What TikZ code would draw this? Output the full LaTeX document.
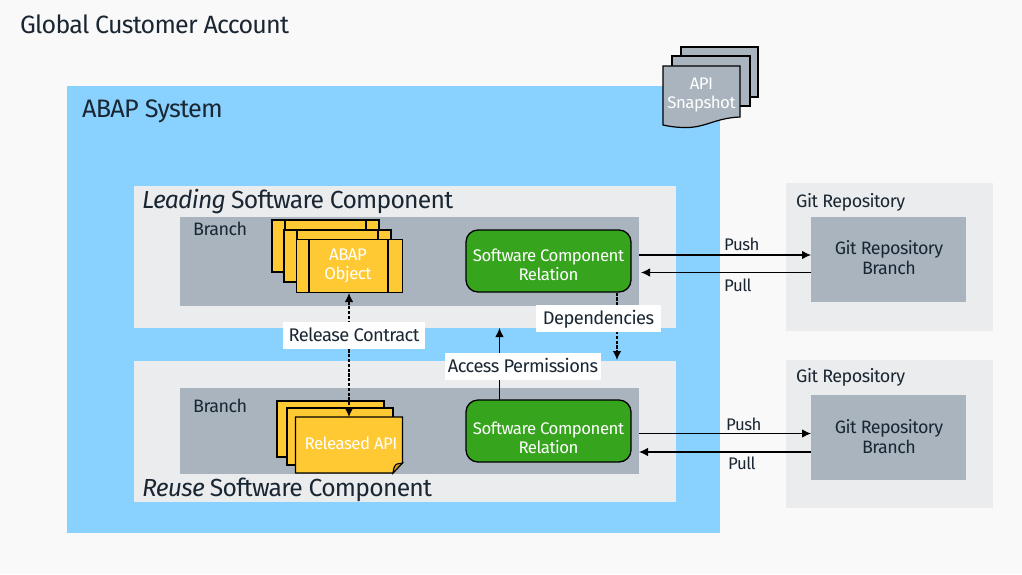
\documentclass[tikz,border=0pt]{standalone}
\usepackage{fontspec}
\setmainfont[LetterSpace=-3]{Fira Sans}
\usetikzlibrary{arrows.meta}
\definecolor{pagebg}{HTML}{F9F9F9}
\definecolor{sysblue}{HTML}{89D1FF}
\definecolor{panel}{HTML}{EBECEE}
\definecolor{slate}{HTML}{A9B4BE}
\definecolor{scgreen}{HTML}{36A41D}
\definecolor{objyellow}{HTML}{FFC933}
\definecolor{foldy}{HTML}{D9A21B}
\definecolor{ink}{HTML}{1A2733}
\newcommand{\fs}[2][19]{\fontsize{#2}{#1}\selectfont}
\tikzset{
  x=1pt,y=-1pt,
  area/.style={draw=none,anchor=north west,inner sep=0pt,outer sep=0pt},
  relbox/.style={draw=black,line width=1.3pt,fill=scgreen,rounded corners=12pt,minimum width=165pt,minimum height=62pt,inner sep=0pt},
  bodytext/.style={font=\fs{16.8},inner sep=0pt,align=center},
  gitbox/.style={area,fill=slate,minimum width=155pt,minimum height=85pt},
  gittext/.style={bodytext,text=ink,font=\fs[20]{17.9}},
  whitetext/.style={bodytext,text=white},
  plainlabel/.style={text=ink,font=\fs{16.8},inner sep=0pt,anchor=base west},
  sidelabel/.style={plainlabel,font=\fs{18}},
  headlabel/.style={plainlabel,font=\fs{25}},
  sclabel/.style={plainlabel,font=\fs{24.7}},
  tag/.style={fill=white,text=ink,font=\fs{18.3},inner sep=0pt,minimum height=27pt,text height=14pt,text depth=2pt},
  objsheet/.style={draw=black,line width=1.2pt,fill=objyellow},
  apisheet/.style={draw=black,line width=1.2pt,fill=objyellow,line join=miter},
  snapsheet/.style={draw=black,line width=1.2pt,fill=slate},
  flow/.style={draw=black,line width=1.1pt,-{Latex[length=9pt,width=8.5pt]}},
  dashflow/.style={flow,line width=1.2pt,dash pattern=on 3.2pt off 1.6pt}
}
\begin{document}
\begin{tikzpicture}
\useasboundingbox (0,0) rectangle (1022,574);
\fill[pagebg] (0,0) rectangle (1022,574);
% system and panels
\node[area,fill=sysblue,minimum width=653pt,minimum height=447pt] (sys) at (67,86) {};
\node[area,fill=panel,minimum width=542pt,minimum height=142pt] (lead) at (134,186) {};
\node[area,fill=panel,minimum width=542pt,minimum height=141pt] (reuse) at (134,361) {};
\node[area,fill=slate,minimum width=459pt,minimum height=89pt] (b1) at (180,217) {};
\node[area,fill=slate,minimum width=459pt,minimum height=86pt] (b2) at (180,388) {};
\node[area,fill=panel,minimum width=207pt,minimum height=148pt] (g1) at (786,183) {};
\node[area,fill=panel,minimum width=207pt,minimum height=148pt] (g2) at (786,360) {};
\node[gitbox] (gb1) at (811,217) {};
\node[gitbox] (gb2) at (811,395) {};
\node[gittext] at (889,257.5) {Git Repository\\Branch};
\node[gittext] at (889,436.5) {Git Repository\\Branch};
% titles
\node[headlabel] (title) at (20,33) {Global Customer Account};
\node[headlabel,font=\fs{25.3}] (abapsys) at (82,117) {ABAP System};
\node[sclabel] (leadt) at (142,208) {\textit{Leading} Software Component};
\node[sclabel] (reuset) at (142,496) {\textit{Reuse} Software Component};
\node[sidelabel] (br1) at (193,235) {Branch};
\node[sidelabel] (br2) at (193,412) {Branch};
\node[sidelabel] (gr1) at (796,207) {Git Repository};
\node[sidelabel] (gr2) at (796,382) {Git Repository};
% snapshot
\draw[snapsheet] (681,47) rectangle (758,97);
\draw[snapsheet] (672,56) rectangle (750,106);
\draw[snapsheet] (663,66) -- (740,66) -- (740,117) .. controls (715,118) and (705,128) .. (685,127.5) .. controls (675,127.5) and (668,126) .. (663,125) -- cycle;
\node[whitetext] (snap) at (701.5,94.5) {API\\Snapshot};
% ABAP objects
\foreach \dx/\dy in {272/220,284/230}{
  \draw[objsheet] (\dx,\dy) rectangle ++(107,52);
  \draw[objsheet] (\dx+13,\dy) -- ++(0,52) (\dx+94,\dy) -- ++(0,52);
}
\node[draw=black,line width=1.2pt,fill=objyellow,anchor=north west,minimum width=106pt,minimum height=53pt,inner sep=0pt] (obj) at (296,239) {};
\draw[objsheet] (309,239) -- (309,292) (388,239) -- (388,292);
\node[whitetext] at (348,266) {ABAP\\Object};
% released API
\draw[apisheet] (277,401) rectangle (384,457);
\draw[apisheet] (287,408) rectangle (393,465);
\node[draw=none,anchor=north west,minimum width=107pt,minimum height=56pt,inner sep=0pt] (rel) at (295.5,417) {};
\draw[apisheet] (295.5,417) -- (402.5,417) -- (402.5,463) -- (393,473) -- (295.5,473) -- cycle;
\draw[draw=black,line width=1.1pt,fill=foldy] (402.5,463) -- (393,473) .. controls (393.5,468) and (395,464.5) .. (397,464) -- cycle;
\node[whitetext] at (351,443) {Released API};
% relations
\node[relbox] (scr1) at (548.5,261) {};
\node[relbox] (scr2) at (548.5,431) {};
\node[whitetext] at (548.5,264.5) {Software Component\\Relation};
\node[whitetext] at (548.5,438) {Software Component\\Relation};
% connectors
\coordinate (p1a) at (639,255); \coordinate (p1b) at (gb1.west |- p1a);
\coordinate (l1a) at (811,272.5); \coordinate (l1b) at (641,272.5);
\coordinate (p2a) at (639,433.5); \coordinate (p2b) at (gb2.west |- p2a);
\coordinate (l2a) at (811,452); \coordinate (l2b) at (639,452);
\draw[flow] (p1a) -- (p1b);
\draw[flow] (l1a) -- (l1b);
\draw[flow] (p2a) -- (p2b);
\draw[flow] (l2a) -- (l2b);
\node[plainlabel] at (724,250) {Push};
\node[plainlabel] at (724,291) {Pull};
\node[plainlabel] at (726,430) {Push};
\node[plainlabel] at (728,469) {Pull};
\coordinate (relup) at (349,293);
\coordinate (reldown) at (349,417);
\draw[dashflow,{Latex[length=9pt,width=8.5pt]}-{Latex[length=9pt,width=8.5pt]}] (relup) -- (reldown);
\coordinate (depstart) at (617,292.5); \coordinate (depend) at (617,360);
\draw[dashflow] (depstart) -- (depend);
\coordinate (accstart) at (499.5,400); \coordinate (accend) at (499.5,328);
\draw[flow] (accstart) -- (accend);
\node[tag,minimum width=142pt] (trel) at (354,335) {Release Contract};
\node[tag,minimum width=125pt] (tdep) at (598.5,318.5) {Dependencies};
\node[tag,minimum width=156pt] (tacc) at (523,366.5) {Access Permissions};
\end{tikzpicture}
\end{document}
